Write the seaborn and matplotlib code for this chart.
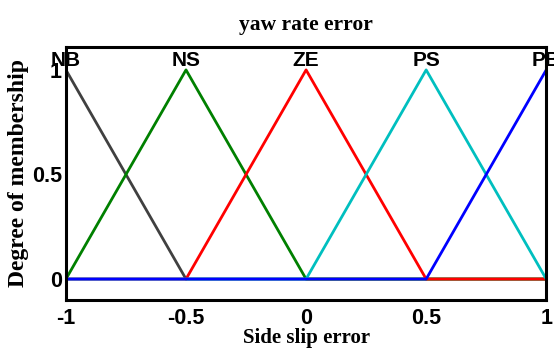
import matplotlib
matplotlib.use("Agg")
import matplotlib.pyplot as plt
import seaborn as sns
import pandas as pd

# membership function breakpoints over the input range
terms = ["NB", "NS", "ZE", "PS", "PB"]
term_colors = ["#404040", "#008000", "#ff0000", "#00bfbf", "#0000ff"]
x_points = [-1.0, -0.5, 0.0, 0.5, 1.0]
memberships = {
    "NB": [1, 0, 0, 0, 0],
    "NS": [0, 1, 0, 0, 0],
    "ZE": [0, 0, 1, 0, 0],
    "PS": [0, 0, 0, 1, 0],
    "PB": [0, 0, 0, 0, 1],
}
peaks = [-1.0, -0.5, 0.0, 0.5, 1.0]

rows = []
for term in terms:
    for x, mu in zip(x_points, memberships[term]):
        rows.append({"x": x, "mu": mu, "term": term})
mf_df = pd.DataFrame(rows)

sns.set_style("white")
plt.rcParams["text.color"] = "black"
plt.rcParams["xtick.color"] = "black"
plt.rcParams["ytick.color"] = "black"
plt.rcParams["axes.labelcolor"] = "black"

sans = ["Liberation Sans"]
serif = ["Liberation Serif"]

fig = plt.figure(figsize=(5.54, 3.5), dpi=100)
ax = fig.add_axes([0.119, 0.143, 0.867, 0.723])

sns.lineplot(data=mf_df, x="x", y="mu", hue="term", hue_order=terms,
             palette=term_colors, sort=False, linewidth=2.0, legend=False, ax=ax)

for term, peak in zip(terms, peaks):
    ax.text(peak, 1.045, term, ha="center", va="center", fontsize=15,
            fontweight="bold", family=sans, clip_on=False)

ax.set_xlim(-1, 1)
ax.set_ylim(-0.1, 1.11)
ax.set_xticks([-1, -0.5, 0, 0.5, 1])
ax.set_xticklabels(["-1", "-0.5", "0", "0.5", "1"])
ax.set_yticks([0, 0.5, 1])
ax.set_yticklabels(["0", "0.5", "1"])
ax.tick_params(direction="in", length=4, width=1.5, labelsize=15.5)
ax.tick_params(axis="x", pad=6)
ax.tick_params(axis="y", pad=3)
for lbl in ax.get_xticklabels() + ax.get_yticklabels():
    lbl.set_fontweight("bold")
    lbl.set_family(sans)

for spine in ax.spines.values():
    spine.set_linewidth(2.2)
    spine.set_color("black")

ax.set_xlabel("Side slip error", fontsize=15, fontweight="bold",
              family=serif, labelpad=-1)
ax.set_ylabel("Degree of membership", fontsize=17, fontweight="bold",
              family=serif, labelpad=2)
ax.set_title("yaw rate error", fontsize=15.5, fontweight="bold",
             family=serif, pad=12)

fig.savefig("out.png", dpi=100)
